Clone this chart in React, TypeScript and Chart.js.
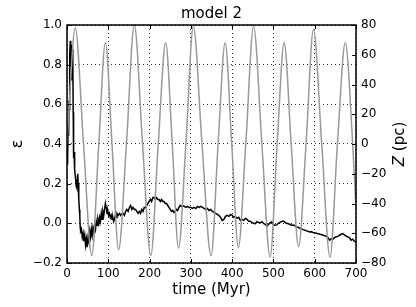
import React, { useEffect, useRef } from "react";
import { Chart, registerables } from "chart.js";

Chart.register(...registerables);

// ---- data ----
const titleText = "model 2";
const xLabel = "time (Myr)";
const leftLabel = "ε";
const rightLabelItalic = "Z";
const rightLabelRest = " (pc)";

const xTicks = [0, 100, 200, 300, 400, 500, 600, 700];
const epsTicks = [-0.2, 0.0, 0.2, 0.4, 0.6, 0.8, 1.0];
const zTicks = [-80, -60, -40, -20, 0, 20, 40, 60, 80];

// ellipticity epsilon (black)
const epsTime = [
  0, 1, 2, 3, 4, 5, 6, 7, 8, 9, 10, 11, 12, 13, 14, 15, 16, 17, 18, 19, 20, 21, 22, 23, 24, 25, 26, 27, 28, 29, 30, 31, 32, 33,
  35, 37, 39, 41, 43, 45, 47, 49, 51, 53, 55, 57, 59, 61, 63, 65, 67, 69, 71, 73, 75, 77, 79, 81, 83, 85, 87, 89, 91, 93, 95, 97, 99,
  101, 103, 105, 107, 109, 111, 113, 115, 117, 119, 121, 124, 127, 130, 133, 136, 139, 142, 145, 148, 151, 154, 157, 160, 163, 166,
  169, 172, 175, 178, 181, 184, 187, 190, 193, 196, 199, 202, 205, 208, 211, 214, 217, 220, 223, 226, 229, 232, 235, 238, 241, 244,
  247, 250, 253, 256, 259, 262, 265, 268, 271, 274, 277, 280, 284, 288, 292, 296, 300, 304, 308, 312, 316, 320, 324, 328, 332, 336,
  340, 344, 348, 352, 356, 360, 364, 368, 372, 376, 380, 384, 388, 392, 396, 400, 404, 408, 412, 416, 420, 424, 428, 432, 436, 440,
  444, 448, 452, 456, 460, 464, 468, 472, 476, 480, 484, 488, 492, 496, 500, 504, 508, 512, 516, 520, 524, 528, 532, 536, 540, 544,
  548, 552, 556, 560, 564, 568, 572, 576, 580, 584, 588, 592, 596, 600, 604, 608, 612, 616, 620, 624, 628, 632, 636, 640, 644, 648,
  652, 656, 660, 664, 668, 672, 676, 680, 684, 688, 692, 696, 700,
];
const epsValues = [
  0.30, 0.38, 0.33, 0.52, 0.44, 0.62, 0.57, 0.84, 0.92, 0.79, 0.90, 0.76, 0.72, 0.88, 0.85, 0.56, 0.33, 0.36, 0.30, 0.27, 0.24, 0.22,
  0.19, 0.21, 0.18, 0.22, 0.25, 0.20, 0.13, 0.12, 0.07, 0.04, -0.02, -0.04,
  -0.03, -0.07, -0.05, -0.09, -0.06, -0.11, -0.08, -0.12, -0.07, -0.09, -0.04, -0.07, -0.03, -0.06, -0.02, -0.04, -0.01, -0.03, 0.01,
  -0.01, 0.02, 0.0, 0.03, 0.01, 0.05, 0.02, 0.06, 0.04, 0.07, 0.10, 0.08, 0.05, 0.06,
  0.04, 0.05, 0.03, 0.04, 0.02, 0.03, 0.01, 0.02, 0.04, 0.03, 0.05, 0.04, 0.05, 0.04, 0.05, 0.05, 0.04, 0.06, 0.07, 0.06, 0.08, 0.09,
  0.07, 0.08, 0.07, 0.07,
  0.06, 0.05, 0.06, 0.05, 0.07, 0.06, 0.08, 0.08, 0.09, 0.10, 0.11, 0.12, 0.11, 0.13, 0.13, 0.12, 0.13, 0.12, 0.12, 0.11, 0.12, 0.11,
  0.11, 0.10, 0.10, 0.09,
  0.08, 0.07, 0.06, 0.065, 0.055, 0.06, 0.07, 0.065, 0.08, 0.09, 0.085, 0.09, 0.085, 0.08, 0.085, 0.08, 0.08, 0.075, 0.08, 0.075,
  0.085, 0.08, 0.085, 0.08, 0.075, 0.07,
  0.075, 0.065, 0.07, 0.06, 0.055, 0.05, 0.045, 0.04, 0.03, 0.015, 0.02, 0.035, 0.04, 0.035, 0.045, 0.04, 0.03, 0.035, 0.025, 0.03,
  0.015, 0.02, 0.015, 0.025, 0.02, 0.01,
  0.01, 0.005, 0.0, -0.002, 0.008, 0.005, 0.002, 0.008, 0.0, -0.005, -0.015, -0.005, 0.002, 0.008, -0.005, -0.01, -0.008, 0.0, 0.005,
  0.01, 0.012, 0.005, 0.0, -0.002, -0.005, -0.01,
  -0.008, -0.012, -0.018, -0.02, -0.025, -0.028, -0.032, -0.035, -0.038, -0.04, -0.044, -0.042, -0.046, -0.048, -0.05, -0.052, -0.055,
  -0.056, -0.06, -0.062, -0.066, -0.072, -0.085, -0.078, -0.08, -0.072,
  -0.068, -0.066, -0.06, -0.055, -0.052, -0.058, -0.064, -0.068, -0.072, -0.085, -0.08, -0.09, -0.094,
];

// vertical position Z in pc (gray): extrema and crossings
const zTime = [
  0, 20, 40, 60, 77, 93, 109, 125, 144, 163, 183, 203, 221, 239, 255, 270, 288, 306, 327, 349, 366, 383, 399, 415, 433, 452, 472,
  492, 509, 526, 543, 561, 579, 597, 617, 637, 655, 674, 692, 700,
];
const zValues = [
  0, 78, 0, -75, 0, 68, 0, -71, 0, 80, 0, -75, 0, 68, 0, -70, 0, 79, 0, -75, 0, 68, 0, -69.5, 0, 79, 0, -76, 0, 68, 0, -69, 0, 77,
  0, -76, 0, 68, 0, -44,
];

const FONT = "'DejaVu Sans', 'Liberation Sans', sans-serif";

const fmtNum = (v: number, digits: number) => {
  const s = Math.abs(v) < 1e-9 ? (0).toFixed(digits) : v.toFixed(digits);
  return s.replace("-", "\u2212");
};

export default function App() {
  const ref = useRef<HTMLCanvasElement | null>(null);

  useEffect(() => {
    const canvas = ref.current;
    if (!canvas) return;

    const decor = {
      id: "decor",
      afterDraw(chart: any) {
        const ctx: CanvasRenderingContext2D = chart.ctx;
        const a = chart.chartArea;
        const xs = chart.scales.x;
        const ys = chart.scales.y;
        const y2 = chart.scales.y2;
        ctx.save();
        ctx.strokeStyle = "#000";
        ctx.lineWidth = 1;
        const seg = (x1: number, y1: number, x2: number, y2v: number) => {
          ctx.beginPath();
          ctx.moveTo(x1, y1);
          ctx.lineTo(x2, y2v);
          ctx.stroke();
        };
        xTicks.forEach((t) => {
          const px = Math.round(xs.getPixelForValue(t)) + 0.5;
          seg(px, a.bottom, px, a.bottom - 4);
          seg(px, a.top, px, a.top + 4);
        });
        epsTicks.forEach((t) => {
          const py = Math.round(ys.getPixelForValue(t)) + 0.5;
          seg(a.left, py, a.left + 4, py);
        });
        zTicks.forEach((t) => {
          const py = Math.round(y2.getPixelForValue(t)) + 0.5;
          seg(a.right, py, a.right - 4, py);
        });
        // frame
        ctx.lineWidth = 1.5;
        ctx.strokeRect(a.left, a.top, a.right - a.left, a.bottom - a.top);

        // texts
        ctx.fillStyle = "#000";
        ctx.textAlign = "center";
        ctx.textBaseline = "middle";
        const cx = (a.left + a.right) / 2;
        ctx.font = `15px ${FONT}`;
        ctx.fillText(titleText, cx, 14);
        ctx.fillText(xLabel, cx, 290);

        const cy = (a.top + a.bottom) / 2;
        // left label
        ctx.save();
        ctx.translate(18, cy);
        ctx.rotate(-Math.PI / 2);
        ctx.font = `16px ${FONT}`;
        ctx.fillText(leftLabel, 0, 0);
        ctx.restore();

        // right label
        ctx.save();
        ctx.translate(400, cy);
        ctx.rotate(-Math.PI / 2);
        ctx.textAlign = "left";
        ctx.font = `italic 15px ${FONT}`;
        const w1 = ctx.measureText(rightLabelItalic).width;
        ctx.font = `15px ${FONT}`;
        const w2 = ctx.measureText(rightLabelRest).width;
        const start = -(w1 + w2) / 2;
        ctx.font = `italic 15px ${FONT}`;
        ctx.fillText(rightLabelItalic, start, 0);
        ctx.font = `15px ${FONT}`;
        ctx.fillText(rightLabelRest, start + w1, 0);
        ctx.restore();

        ctx.restore();
      },
    };

    const gridCommon = {
      color: "rgba(0,0,0,0.8)",
      lineWidth: 1,
      drawTicks: false,
    };

    const chart = new Chart(canvas, {
      type: "line",
      data: {
        datasets: [
          {
            label: "Z",
            data: zTime.map((t, i) => ({ x: t, y: zValues[i] })),
            yAxisID: "y2",
            borderColor: "#999999",
            borderWidth: 1.5,
            pointRadius: 0,
            cubicInterpolationMode: "monotone",
            fill: false,
          },
          {
            label: "eps",
            data: epsTime.map((t, i) => ({ x: t, y: epsValues[i] })),
            yAxisID: "y",
            borderColor: "#000000",
            borderWidth: 1.5,
            pointRadius: 0,
            tension: 0,
            fill: false,
          },
        ],
      },
      options: {
        responsive: false,
        animation: false,
        devicePixelRatio: 1,
        layout: { padding: { top: 25, left: 0, right: 0, bottom: 0 } },
        plugins: {
          legend: { display: false },
          tooltip: { enabled: false },
          title: { display: false },
        },
        scales: {
          x: {
            type: "linear",
            min: 0,
            max: 700,
            afterBuildTicks: (s: any) => {
              s.ticks = xTicks.map((v) => ({ value: v }));
            },
            afterFit: (s: any) => {
              s.height = 44;
            },
            border: { display: false, dash: [1, 3] },
            grid: gridCommon,
            ticks: {
              padding: 4,
              maxRotation: 0,
              color: "#000",
              font: { family: FONT, size: 12 },
              callback: (v: any) => fmtNum(Number(v), 0),
            },
          },
          y: {
            type: "linear",
            position: "left",
            min: -0.2,
            max: 1.0,
            afterBuildTicks: (s: any) => {
              s.ticks = epsTicks.map((v) => ({ value: v }));
            },
            afterFit: (s: any) => {
              s.width = 67;
            },
            border: { display: false, dash: [1, 3] },
            grid: gridCommon,
            ticks: {
              padding: 5,
              color: "#000",
              font: { family: FONT, size: 12 },
              callback: (v: any) => fmtNum(Number(v), 1),
            },
          },
          y2: {
            type: "linear",
            position: "right",
            min: -80,
            max: 80,
            afterBuildTicks: (s: any) => {
              s.ticks = zTicks.map((v) => ({ value: v }));
            },
            afterFit: (s: any) => {
              s.width = 60;
            },
            border: { display: false },
            grid: { drawOnChartArea: false, drawTicks: false },
            ticks: {
              padding: 5,
              color: "#000",
              font: { family: FONT, size: 12 },
              callback: (v: any) => fmtNum(Number(v), 0),
            },
          },
        },
      } as any,
      plugins: [decor],
    });

    return () => chart.destroy();
  }, []);

  return (
    <div style={{ position: "fixed", left: 0, top: 0, width: 416, height: 307, background: "#fff" }}>
      <canvas ref={ref} width={416} height={307} style={{ display: "block", width: 416, height: 307 }} />
    </div>
  );
}
